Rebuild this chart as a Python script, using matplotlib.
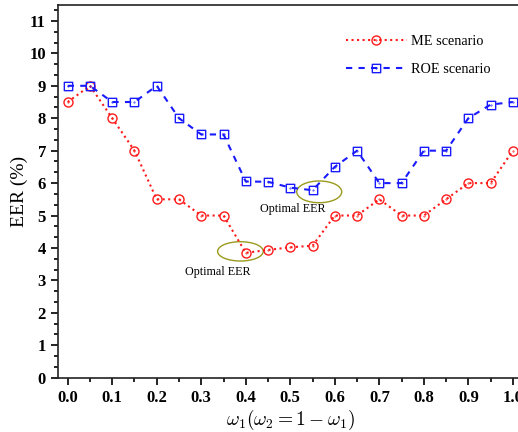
import matplotlib
matplotlib.use("Agg")
import matplotlib.pyplot as plt
from matplotlib.patches import Ellipse
from matplotlib.path import Path
from matplotlib.ticker import MultipleLocator

plt.rcParams['font.family'] = ['Liberation Serif', 'DejaVu Serif']
plt.rcParams['mathtext.fontset'] = 'cm'

# weights and EER values
w1 = [0.0, 0.05, 0.1, 0.15, 0.2, 0.25, 0.3, 0.35, 0.4, 0.45, 0.5,
      0.55, 0.6, 0.65, 0.7, 0.75, 0.8, 0.85, 0.9, 0.95, 1.0]
me_eer = [8.5, 9.0, 8.0, 7.0, 5.5, 5.5, 5.0, 5.0, 3.85, 3.94, 4.02,
          4.07, 5.0, 5.0, 5.5, 5.0, 5.0, 5.5, 6.0, 6.0, 7.0]
roe_eer = [9.0, 9.0, 8.5, 8.5, 9.0, 8.0, 7.5, 7.5, 6.05, 6.04, 5.86,
           5.78, 6.5, 7.0, 6.0, 6.0, 7.0, 7.0, 8.0, 8.42, 8.5]

red = '#ff1a1a'
blue = '#1a1aff'
olive = '#9a9a1e'

# open markers with a centre dot
dot = Path.circle((0, 0), 0.07)
circ_dot = Path.make_compound_path(Path.unit_circle(), dot)
sq = Path([(-1, -1), (1, -1), (1, 1), (-1, 1), (-1, -1)],
          [Path.MOVETO, Path.LINETO, Path.LINETO, Path.LINETO, Path.CLOSEPOLY])
sq_dot = Path.make_compound_path(sq, dot)

fig = plt.figure(figsize=(5.18, 4.32), dpi=100)
ax = fig.add_axes([0.1114, 0.1257, 0.898, 0.8634])

ax.plot(w1, me_eer, ls=':', lw=1.5, color=red, marker=circ_dot,
        ms=6.5, mfc='none', mec=red, mew=1.0, label='ME scenario')
ax.plot(w1, roe_eer, ls=(0, (3, 3)), lw=1.5, color=blue, marker=sq_dot,
        ms=6.0, mfc='none', mec=blue, mew=1.0, label='ROE scenario')

# optimal EER annotations
ax.add_patch(Ellipse((0.388, 3.895), 0.1025, 0.595, fill=False, ec=olive, lw=1.0))
ax.add_patch(Ellipse((0.565, 5.73), 0.101, 0.67, fill=False, ec=olive, lw=1.0))
ax.text(0.338, 3.27, 'Optimal EER', ha='center', va='center', fontsize=8.7)
ax.text(0.505, 5.2, 'Optimal EER', ha='center', va='center', fontsize=8.7)

ax.xaxis.set_minor_locator(MultipleLocator(0.05))
ax.yaxis.set_minor_locator(MultipleLocator(1 / 3))
ax.set_xticks([i / 10 for i in range(11)])
ax.set_xticklabels([f'{i / 10:.1f}' for i in range(11)], fontweight='bold')
ax.set_yticks(range(0, 12))
ax.set_yticklabels([str(v) for v in range(0, 12)], fontweight='bold')
ax.tick_params(which='major', direction='out', length=5, width=1.2, labelsize=12)
ax.tick_params(which='minor', direction='out', length=3, width=1.2)
ax.set_xlim(-0.0225, 1.0225)
ax.set_ylim(0, 11.5)
for s in ax.spines.values():
    s.set_linewidth(1.2)
    s.set_color('#222222')

ax.set_xlabel(r'$\omega_1(\omega_2=1-\omega_1)$', fontsize=14, labelpad=2)
ax.set_ylabel('EER (%)', fontsize=14, labelpad=1)

ax.legend(loc='upper left', bbox_to_anchor=(0.668, 0.918), bbox_transform=fig.transFigure,
          frameon=False, fontsize=10.3, handlelength=4.25, handletextpad=0.3,
          labelspacing=1.0, borderpad=0, borderaxespad=0)

fig.savefig('out.png', dpi=100)
